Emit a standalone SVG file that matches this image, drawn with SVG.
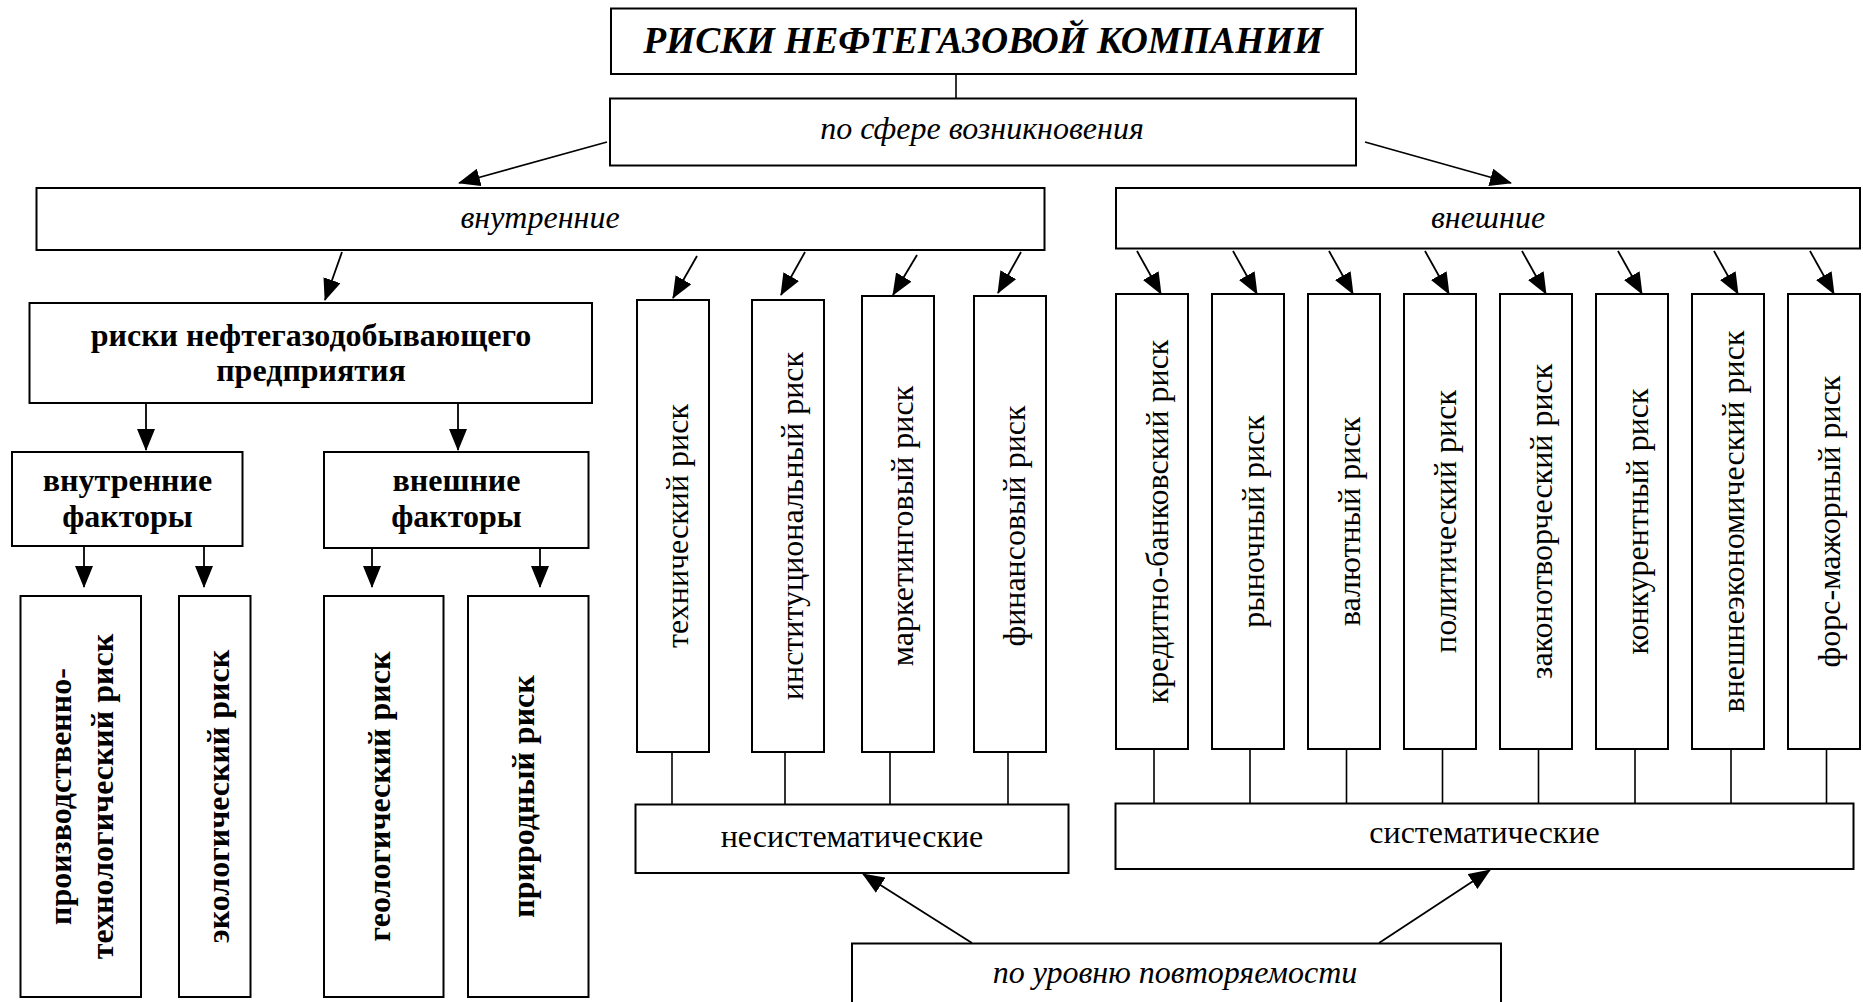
<svg xmlns="http://www.w3.org/2000/svg" width="1863" height="1002" viewBox="0 0 1863 1002">
<defs>
<style>
.box{fill:#fff;stroke:#000;stroke-width:2}
.ln{stroke:#000;stroke-width:1.6;fill:none}
.arr{stroke:#000;stroke-width:1.8;fill:none;marker-end:url(#ah)}
.t{font-family:"Liberation Serif","Times New Roman",serif;font-size:32px;fill:#000;text-anchor:middle}
.i{font-style:italic}
.b{font-weight:bold}
.title{font-family:"Liberation Serif","Times New Roman",serif;font-size:37.5px;font-weight:bold;font-style:italic;text-anchor:middle;fill:#000}
</style>
<marker id="ah" viewBox="0 0 22 18" refX="21" refY="9" markerWidth="22" markerHeight="18" markerUnits="userSpaceOnUse" orient="auto">
<path d="M0,0 L22,9 L0,18 z" fill="#000"/>
</marker>
</defs>
<rect width="1863" height="1002" fill="#fff"/>

<g id="connectors">
<line class="ln" x1="956" y1="74" x2="956" y2="98.5"/>
<line class="arr" x1="607" y1="142" x2="459" y2="183"/>
<line class="arr" x1="1365" y1="142" x2="1511" y2="183"/>
<line class="arr" x1="342" y1="252" x2="325" y2="300"/>
<line class="arr" x1="697" y1="256" x2="673" y2="298"/>
<line class="arr" x1="805" y1="252" x2="781" y2="295"/>
<line class="arr" x1="917" y1="255" x2="893" y2="295"/>
<line class="arr" x1="1021" y1="252" x2="998" y2="293"/>
<line class="arr" x1="1137" y1="251" x2="1161" y2="294"/>
<line class="arr" x1="1233" y1="251" x2="1257" y2="294"/>
<line class="arr" x1="1329" y1="251" x2="1353" y2="294"/>
<line class="arr" x1="1425" y1="251" x2="1449" y2="294"/>
<line class="arr" x1="1522" y1="251" x2="1546" y2="294"/>
<line class="arr" x1="1618" y1="251" x2="1642" y2="294"/>
<line class="arr" x1="1714" y1="251" x2="1738" y2="294"/>
<line class="arr" x1="1810" y1="251" x2="1834" y2="294"/>
<line class="arr" x1="146" y1="403" x2="146" y2="450"/>
<line class="arr" x1="458" y1="403" x2="458" y2="450"/>
<line class="arr" x1="84" y1="546" x2="84" y2="587"/>
<line class="arr" x1="204" y1="546" x2="204" y2="587"/>
<line class="arr" x1="372" y1="548" x2="372" y2="587"/>
<line class="arr" x1="540" y1="548" x2="540" y2="587"/>
<line class="ln" x1="672" y1="752" x2="672" y2="804"/>
<line class="ln" x1="785" y1="752" x2="785" y2="804"/>
<line class="ln" x1="890" y1="752" x2="890" y2="804"/>
<line class="ln" x1="1008" y1="752" x2="1008" y2="804"/>
<line class="ln" x1="1154" y1="749" x2="1154" y2="803"/>
<line class="ln" x1="1250" y1="749" x2="1250" y2="803"/>
<line class="ln" x1="1346.5" y1="749" x2="1346.5" y2="803"/>
<line class="ln" x1="1442.5" y1="749" x2="1442.5" y2="803"/>
<line class="ln" x1="1538.5" y1="749" x2="1538.5" y2="803"/>
<line class="ln" x1="1635" y1="749" x2="1635" y2="803"/>
<line class="ln" x1="1731" y1="749" x2="1731" y2="803"/>
<line class="ln" x1="1826.5" y1="749" x2="1826.5" y2="803"/>
<line class="arr" x1="972" y1="943" x2="863" y2="874"/>
<line class="arr" x1="1379" y1="943" x2="1490" y2="870"/>
</g>

<g id="n-title">
<rect class="box" x="611" y="8.5" width="745" height="65.5"/>
<text class="title" x="983" y="53">РИСКИ НЕФТЕГАЗОВОЙ КОМПАНИИ</text>
</g>
<g id="n-sphere">
<rect class="box" x="610" y="98.5" width="746" height="67"/>
<text class="t i" x="982" y="139">по сфере возникновения</text>
</g>
<g id="n-internal">
<rect class="box" x="36.5" y="188" width="1008" height="62"/>
<text class="t i" x="540" y="228">внутренние</text>
</g>
<g id="n-external">
<rect class="box" x="1116" y="188" width="744" height="60.5"/>
<text class="t i" x="1488" y="228">внешние</text>
</g>
<g id="n-enterprise">
<rect class="box" x="29.5" y="303" width="562.5" height="100"/>
<text class="t b" x="311" y="346">риски нефтегазодобывающего</text>
<text class="t b" x="311" y="381">предприятия</text>
</g>
<g id="n-int-factors">
<rect class="box" x="12" y="452" width="230.5" height="94"/>
<text class="t b" x="127.5" y="491">внутренние</text>
<text class="t b" x="127.5" y="527">факторы</text>
</g>
<g id="n-ext-factors">
<rect class="box" x="324" y="452" width="264.5" height="96"/>
<text class="t b" x="456.5" y="491">внешние</text>
<text class="t b" x="456.5" y="527">факторы</text>
</g>
<g id="n-prod">
<rect class="box" x="20.5" y="596" width="120.5" height="401"/>
<text class="t b" transform="translate(71,796.5) rotate(-90)">производственно-</text>
<text class="t b" transform="translate(113,796.5) rotate(-90)">технологический риск</text>
</g>
<g id="n-eco">
<rect class="box" x="179" y="596" width="71.5" height="401"/>
<text class="t b" transform="translate(229,796.5) rotate(-90)">экологический риск</text>
</g>
<g id="n-geo">
<rect class="box" x="324" y="596" width="119.5" height="401"/>
<text class="t b" transform="translate(389.5,796.5) rotate(-90)">геологический риск</text>
</g>
<g id="n-nature">
<rect class="box" x="468" y="596" width="120.5" height="401"/>
<text class="t b" transform="translate(534,796.5) rotate(-90)">природный риск</text>
</g>
<g id="n-tech">
<rect class="box" x="637" y="300" width="72" height="452"/>
<text class="t" transform="translate(688,526) rotate(-90)">технический риск</text>
</g>
<g id="n-inst">
<rect class="box" x="752" y="300" width="72" height="452"/>
<text class="t" transform="translate(803,526) rotate(-90)">институциональный риск</text>
</g>
<g id="n-mark">
<rect class="box" x="862" y="296" width="72" height="456"/>
<text class="t" transform="translate(913,526) rotate(-90)">маркетинговый риск</text>
</g>
<g id="n-fin">
<rect class="box" x="974" y="296" width="72" height="456"/>
<text class="t" transform="translate(1025,526) rotate(-90)">финансовый риск</text>
</g>
<g id="n-credit">
<rect class="box" x="1116" y="294" width="72" height="455"/>
<text class="t" transform="translate(1168,521.5) rotate(-90)">кредитно-банковский риск</text>
</g>
<g id="n-market">
<rect class="box" x="1212" y="294" width="72" height="455"/>
<text class="t" transform="translate(1264,521.5) rotate(-90)">рыночный риск</text>
</g>
<g id="n-currency">
<rect class="box" x="1308" y="294" width="72" height="455"/>
<text class="t" transform="translate(1360,521.5) rotate(-90)">валютный риск</text>
</g>
<g id="n-polit">
<rect class="box" x="1404" y="294" width="72" height="455"/>
<text class="t" transform="translate(1456,521.5) rotate(-90)">политический риск</text>
</g>
<g id="n-legis">
<rect class="box" x="1500" y="294" width="72" height="455"/>
<text class="t" transform="translate(1552,521.5) rotate(-90)">законотворческий риск</text>
</g>
<g id="n-compet">
<rect class="box" x="1596" y="294" width="72" height="455"/>
<text class="t" transform="translate(1648,521.5) rotate(-90)">конкурентный риск</text>
</g>
<g id="n-foreign">
<rect class="box" x="1692" y="294" width="72" height="455"/>
<text class="t" transform="translate(1744,521.5) rotate(-90)">внешнеэкономический риск</text>
</g>
<g id="n-force">
<rect class="box" x="1788" y="294" width="72" height="455"/>
<text class="t" transform="translate(1840,521.5) rotate(-90)">форс-мажорный риск</text>
</g>
<g id="n-unsys">
<rect class="box" x="635.5" y="804.5" width="433" height="68.5"/>
<text class="t" x="852" y="846.5">несистематические</text>
</g>
<g id="n-sys">
<rect class="box" x="1115.5" y="803.5" width="738" height="65.5"/>
<text class="t" x="1484.5" y="843">систематические</text>
</g>
<g id="n-repeat">
<rect class="box" x="852" y="943.5" width="649" height="70"/>
<text class="t i" x="1175" y="983">по уровню повторяемости</text>
</g>
</svg>
